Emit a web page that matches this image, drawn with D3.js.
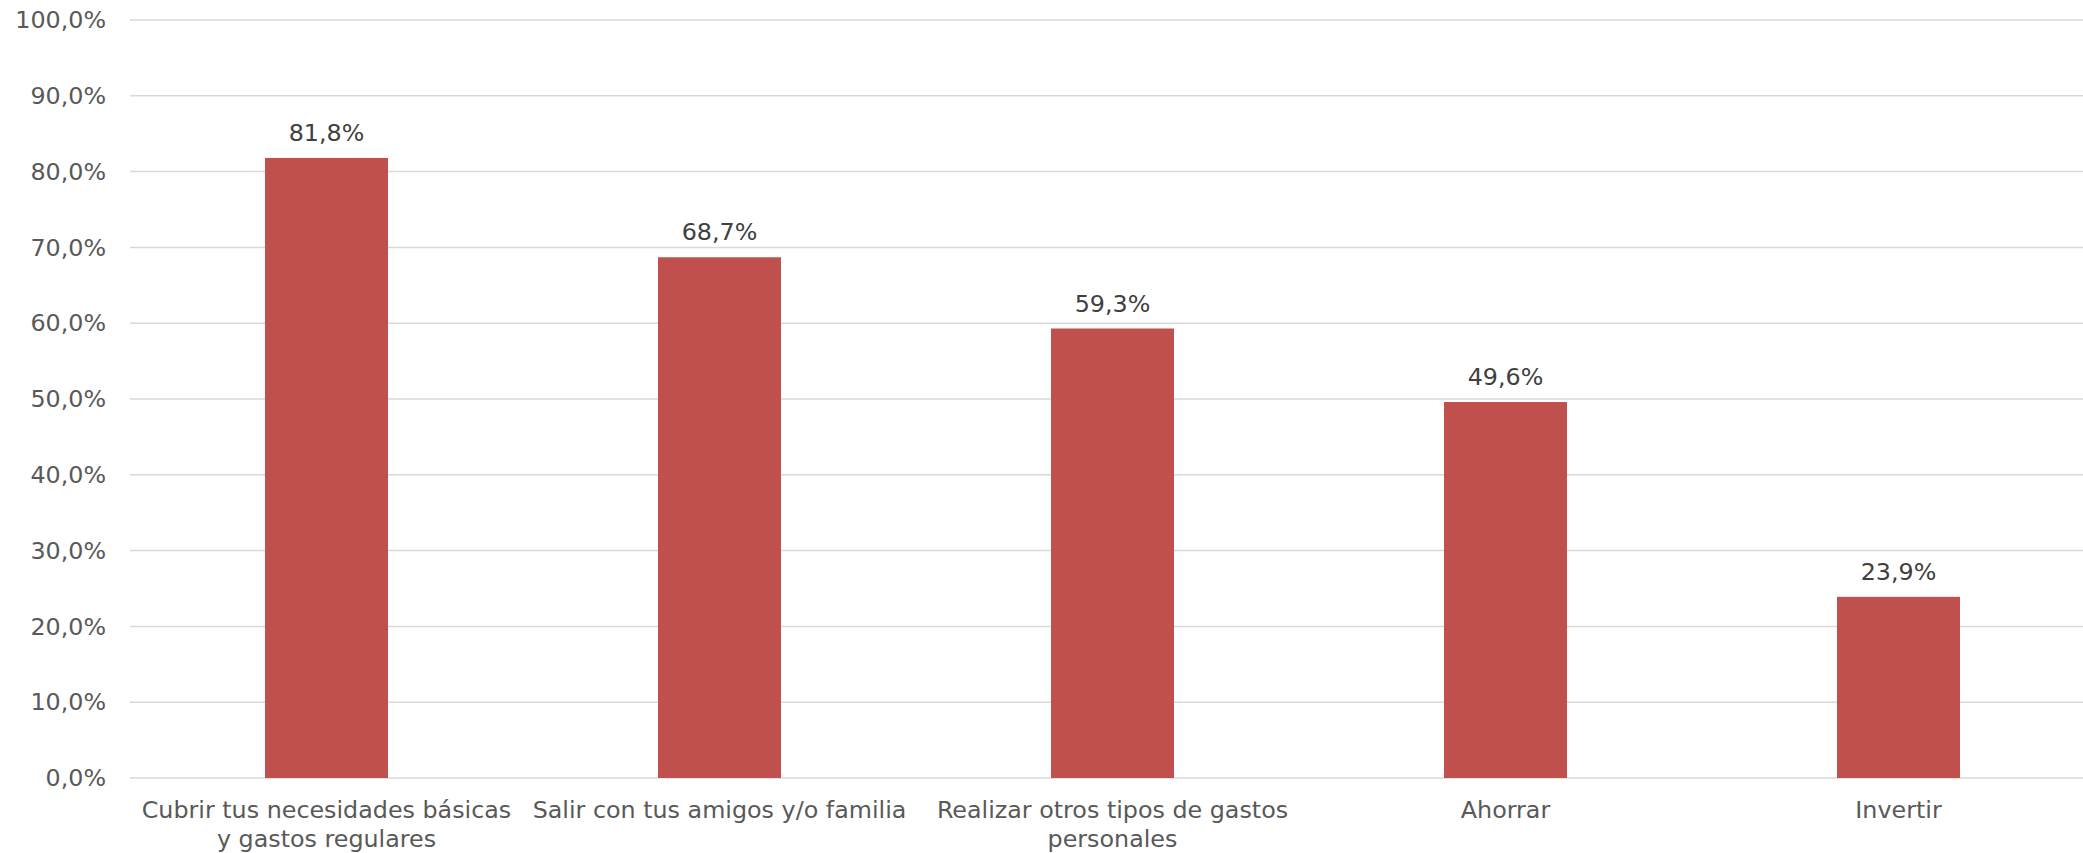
<!DOCTYPE html>
<html>
<head>
<meta charset="utf-8">
<script src="https://cdn.jsdelivr.net/npm/d3@7"></script>
<style>
  html, body { margin: 0; padding: 0; background: #fff; }
  svg { display: block; }
</style>
</head>
<body>
<svg id="chart" width="2083" height="853"></svg>
<script>
const categories = [
  "Cubrir tus necesidades básicas\ny gastos regulares",
  "Salir con tus amigos y/o familia",
  "Realizar otros tipos de gastos\npersonales",
  "Ahorrar",
  "Invertir"
];
const values = [81.8, 68.7, 59.3, 49.6, 23.9];
const yTicks = [0, 10, 20, 30, 40, 50, 60, 70, 80, 90, 100];

(function () {
const W = 2083;
const mLeft = 130, mRight = 2095, mTop = 20, mBottom = 778;
const font = "'DejaVu Sans', Verdana, sans-serif";
const fs = 23.8;
const fmt = v => d3.format(".1f")(v).replace(".", ",") + "%";

const svg = d3.select("#chart");

const x = d3.scaleBand().domain(categories).range([mLeft, mRight]).paddingInner(0.687).paddingOuter(0.3435);
const y = d3.scaleLinear().domain([0, 100]).range([mBottom, mTop]);

// gridlines
svg.append("g").selectAll("line").data(yTicks).join("line")
  .attr("x1", mLeft).attr("x2", W)
  .attr("y1", d => y(d)).attr("y2", d => y(d))
  .attr("stroke", "#D9D9D9").attr("stroke-width", 1.5);

// y axis labels
const yAxis = d3.axisLeft(y).tickValues(yTicks).tickSize(0).tickPadding(0).tickFormat(d => fmt(d));
const ya = svg.append("g").attr("transform", `translate(106,0)`).call(yAxis);
ya.select(".domain").remove();
ya.selectAll("text").attr("font-family", font).attr("font-size", fs).attr("fill", "#595959");

// bars
svg.append("g").selectAll("rect").data(values).join("rect")
  .attr("x", (d, i) => x(categories[i]))
  .attr("width", x.bandwidth())
  .attr("y", d => y(d))
  .attr("height", d => y(0) - y(d))
  .attr("fill", "#C0504D");

// value labels
svg.append("g").selectAll("text").data(values).join("text")
  .attr("x", (d, i) => x(categories[i]) + x.bandwidth() / 2)
  .attr("y", d => y(d) - 17)
  .attr("text-anchor", "middle")
  .attr("font-family", font).attr("font-size", fs).attr("fill", "#404040")
  .text(d => fmt(d));

// category labels
const xAxis = d3.axisBottom(x).tickSize(0).tickPadding(0).tickFormat("");
const xa = svg.append("g").attr("transform", `translate(0,${mBottom})`).call(xAxis);
xa.select(".domain").remove();
xa.selectAll(".tick").each(function(d) {
  const t = d3.select(this).append("text")
    .attr("text-anchor", "middle")
    .attr("font-family", font).attr("font-size", fs).attr("fill", "#595959");
  d.split("\n").forEach((line, k) => {
    t.append("tspan").attr("x", 0).attr("y", 40 + k * 29).text(line);
  });
});
})();
</script>
</body>
</html>
